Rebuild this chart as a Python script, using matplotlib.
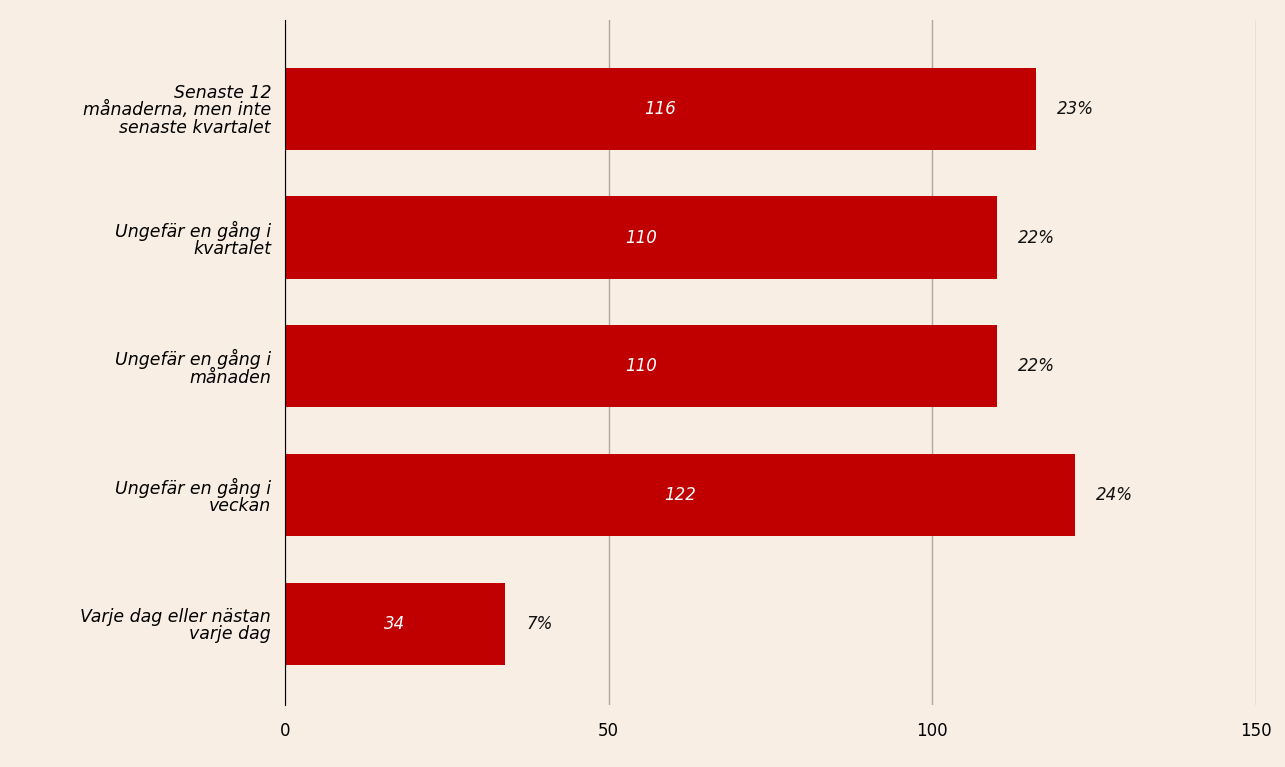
import matplotlib.pyplot as plt

categories = ["Senaste 12\nmånaderna, men inte\nsenaste kvartalet",
              "Ungefär en gång i\nkvartalet",
              "Ungefär en gång i\nmånaden",
              "Ungefär en gång i\nveckan",
              "Varje dag eller nästan\nvarje dag"]
counts = [116, 110, 110, 122, 34]
shares = ["23%", "22%", "22%", "24%", "7%"]
xticks = [0, 50, 100, 150]

bg = "#f8eee3"
fig = plt.figure(figsize=(12.85, 7.67), dpi=100, facecolor=bg)
ax = fig.add_axes([0.2218, 0.081, 0.7556, 0.893], facecolor=bg)

ypos = list(range(len(categories)))
ax.barh(ypos, counts, height=0.64, color="#c00000", zorder=3)
for y, c, s in zip(ypos, counts, shares):
    ax.text(c / 2, y, str(c), color="white", style="italic", fontsize=12,
            ha="center", va="center", zorder=4)
    ax.text(c + 3.3, y, s, color="#111111", style="italic", fontsize=12,
            ha="left", va="center")

ax.set_yticks(ypos)
ax.set_yticklabels(categories, style="italic", fontsize=12.5, linespacing=0.95)
ax.set_ylim(4.63, -0.69)
ax.set_xlim(0, 150)
ax.set_xticks(xticks)
ax.tick_params(axis="x", labelsize=12, length=0, pad=12)
ax.tick_params(axis="y", length=0, pad=10)
ax.grid(axis="x", color="#b0a8a0", linewidth=1, zorder=0)
for side in ["top", "right", "bottom"]:
    ax.spines[side].set_visible(False)
ax.spines["left"].set_color("black")
ax.spines["left"].set_zorder(5)

fig.savefig("out.png", facecolor=bg)
